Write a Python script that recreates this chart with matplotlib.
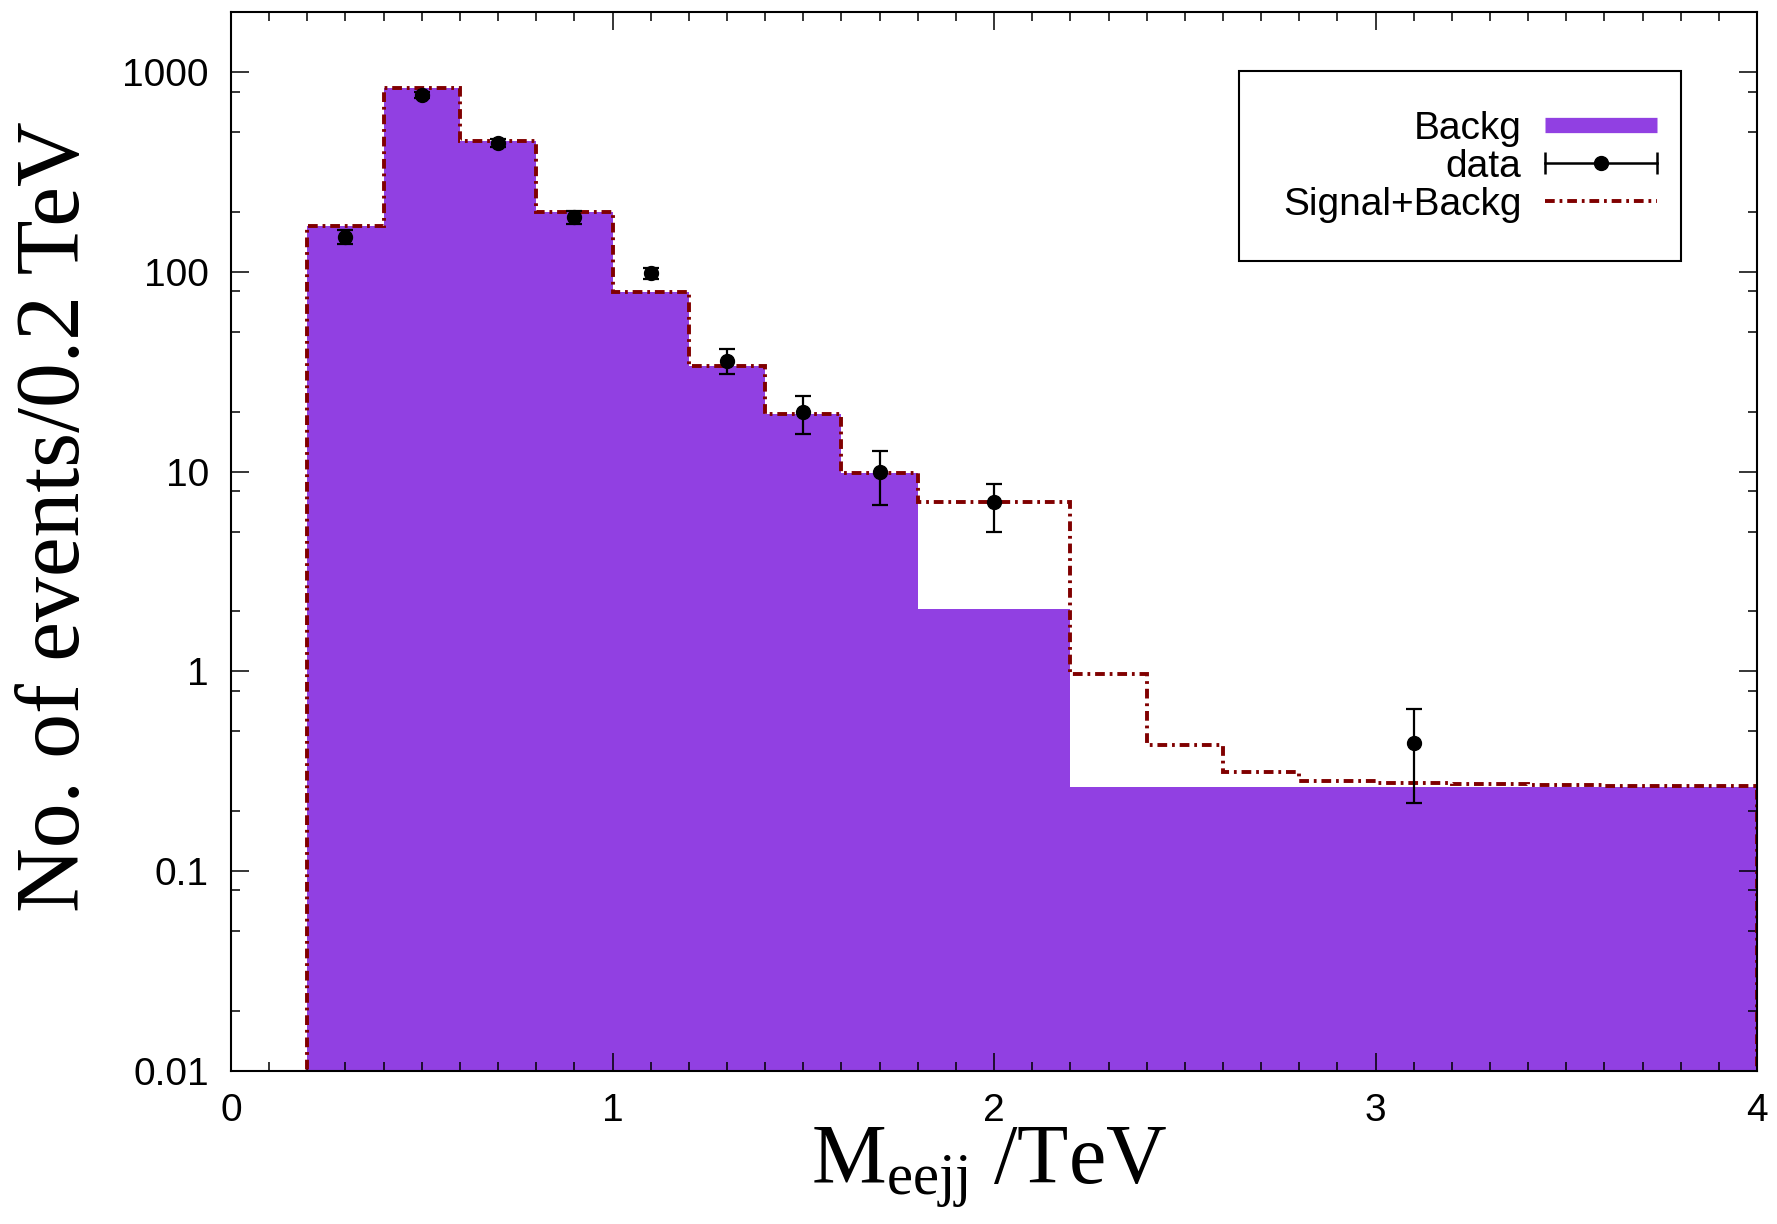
import matplotlib
matplotlib.use('Agg')
import matplotlib.pyplot as plt
from matplotlib.lines import Line2D
from matplotlib.patches import Rectangle
from matplotlib.legend_handler import HandlerLine2D, HandlerTuple
from matplotlib.ticker import LogLocator, NullFormatter, MultipleLocator

plt.rcParams['font.family'] = ['Liberation Sans', 'DejaVu Sans']
plt.rcParams['mathtext.fontset'] = 'custom'
plt.rcParams['mathtext.rm'] = 'Liberation Serif'
plt.rcParams['mathtext.it'] = 'Liberation Serif:italic'
plt.rcParams['lines.scale_dashes'] = False

# bin edges in TeV (0.2 TeV bins)
edges = [0.2, 0.4, 0.6, 0.8, 1.0, 1.2, 1.4, 1.6, 1.8, 2.0, 2.2,
         2.4, 2.6, 2.8, 3.0, 3.2, 3.4, 3.6, 3.8, 4.0]
backg = [169, 834, 455, 200, 79, 34, 19.5, 9.9, 2.06, 2.06,
         0.263, 0.263, 0.263, 0.263, 0.263, 0.263, 0.263, 0.263, 0.263]
sig_backg = [169, 834, 455, 200, 79, 34, 19.5, 9.9, 7.05, 7.05,
             0.97, 0.43, 0.314, 0.283, 0.276, 0.272, 0.27, 0.268, 0.266]

# data points
data_x = [0.3, 0.5, 0.7, 0.9, 1.1, 1.3, 1.5, 1.7, 2.0, 3.1]
data_y = [150, 768, 444, 188, 98.6, 36, 20, 10, 7.05, 0.44]
data_lo = [12, 28, 21, 14, 6, 5, 4.6, 3.2, 2.05, 0.22]
data_hi = [12, 28, 21, 14, 6, 5, 4.0, 2.7, 1.65, 0.21]

purple = '#9140e2'
maroon = '#800000'
dashdot = (0, (7, 3.5, 2, 3.5))

fig = plt.figure(figsize=(17.77, 12.24), dpi=100)
ax = fig.add_axes([0.130, 0.1252, 0.8588, 0.8649])

ax.stairs(backg, edges, baseline=1e-3, fill=True, color=purple, zorder=1)
ax.stairs(sig_backg, edges, baseline=1e-3, fill=False, color=maroon,
          lw=2.8, linestyle=dashdot, zorder=2)
ax.errorbar(data_x, data_y, yerr=[data_lo, data_hi], fmt='o', color='k',
            markersize=10, elinewidth=1.6, capsize=6, capthick=1.6, zorder=3)

ax.set_yscale('log')
ax.set_xlim(0, 4)
ax.set_ylim(0.01, 2000)

ax.set_xticks([0, 1, 2, 3, 4])
ax.set_xticklabels(['0', '1', '2', '3', '4'])
ax.xaxis.set_minor_locator(MultipleLocator(0.1))
ax.set_yticks([0.01, 0.1, 1, 10, 100, 1000])
ax.set_yticklabels(['0.01', '0.1', '1', '10', '100', '1000'])
ax.yaxis.set_minor_locator(LogLocator(base=10, subs=[2, 5, 8]))
ax.yaxis.set_minor_formatter(NullFormatter())

ax.tick_params(which='both', direction='in', top=True, right=True,
               labelsize=28, width=1.1)
ax.tick_params(which='major', length=13)
ax.tick_params(which='minor', length=6.5)
ax.tick_params(axis='y', pad=16)
ax.tick_params(axis='x', pad=16)
for s in ax.spines.values():
    s.set_linewidth(1.5)

ax.set_ylabel('No. of events/0.2 TeV', family='Liberation Serif', fontsize=64.5)
ax.yaxis.set_label_coords(-0.087, 0.523)
ax.set_xlabel(r'$\mathrm{M}_{\mathrm{eejj}}\ \mathrm{/TeV}$', fontsize=60.5)
ax.xaxis.label.set_va('baseline')
ax.xaxis.set_label_coords(0.497, -0.107)

# legend
h_bkg = Line2D([], [], color=purple, lw=11, solid_capstyle='butt')
h_caps = Line2D([], [], color='k', lw=1.8, marker='|', markersize=16,
                markeredgewidth=1.8)
h_dot = Line2D([], [], ls='none', marker='o', color='k', markersize=10)
h_sb = Line2D([], [], color=maroon, lw=2.8, linestyle=dashdot)

leg = ax.legend([h_bkg, (h_caps, h_dot), h_sb],
                ['Backg', 'data', 'Signal+Backg'],
                handler_map={h_caps: HandlerLine2D(numpoints=2, marker_pad=0),
                             h_dot: HandlerLine2D(numpoints=1),
                             tuple: HandlerTuple(ndivide=1)},
                markerfirst=False, frameon=False, loc='center',
                bbox_to_anchor=(0.812, 0.854), fontsize=28,
                handlelength=2.9, handletextpad=0.6, labelspacing=0.05)
ax.add_patch(Rectangle((0.6606, 0.765), 0.2894, 0.1795, transform=ax.transAxes,
                       fill=False, edgecolor='k', lw=1.5, zorder=5))

fig.savefig('out.png', dpi=100)
